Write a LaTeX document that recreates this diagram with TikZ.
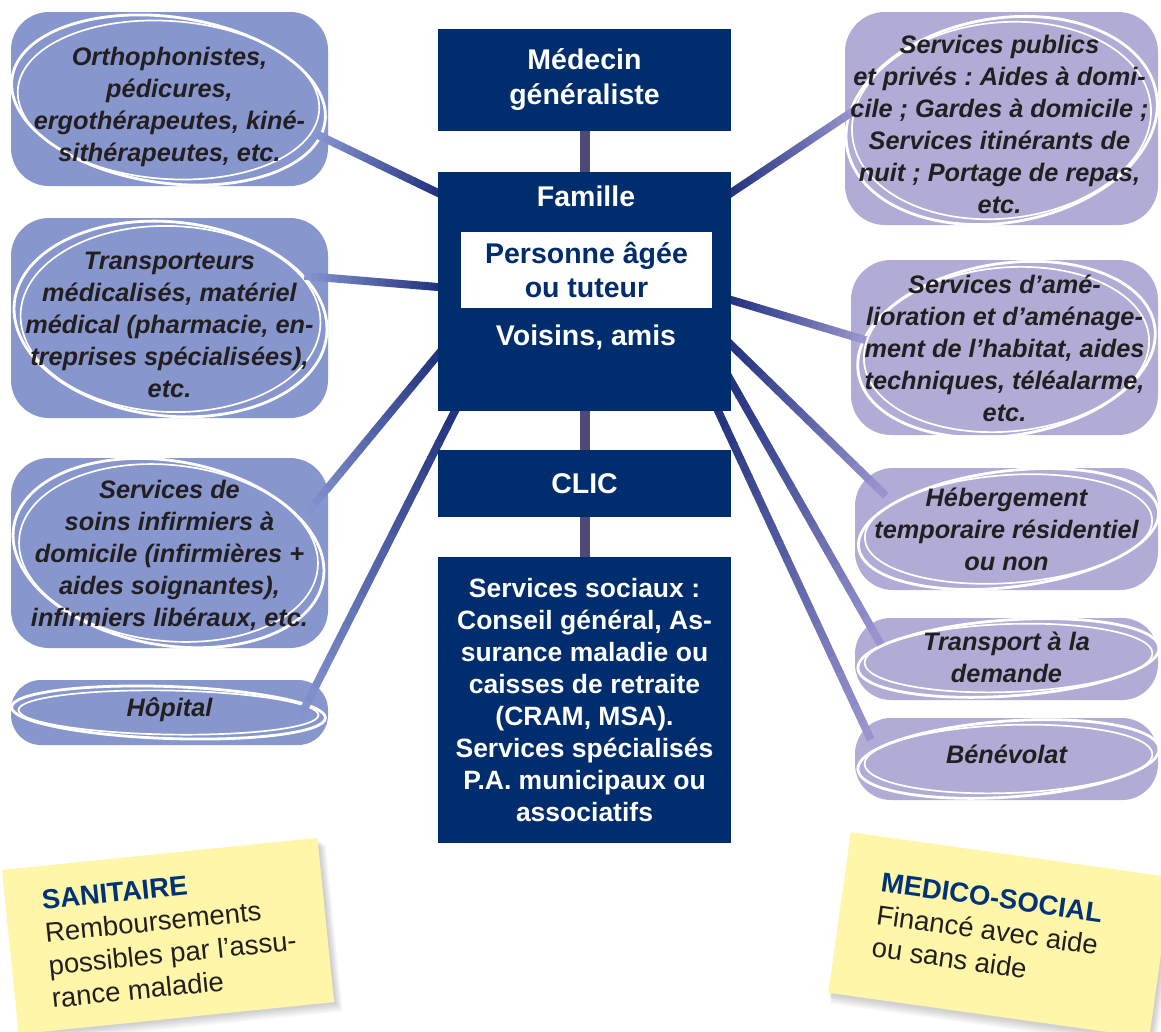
\documentclass[tikz,border=0pt]{standalone}
\usepackage{fontspec}
\setmainfont{Liberation Sans}
\frenchspacing
\usetikzlibrary{calc}
\pgfdeclarelayer{paper}
\pgfdeclarelayer{bg}
\pgfdeclarelayer{rings}
\pgfdeclarelayer{lines}
\pgfsetlayers{paper,bg,rings,lines,main}
\definecolor{navy}{RGB}{0,45,110}
\definecolor{lbox}{RGB}{135,150,204}
\definecolor{rbox}{RGB}{176,172,214}
\definecolor{vline}{RGB}{78,74,120}
\definecolor{ink}{RGB}{35,31,32}
\definecolor{notey}{RGB}{255,246,170}
\definecolor{ldark}{RGB}{35,52,128}
\definecolor{llight}{RGB}{132,147,207}
\definecolor{rlight}{RGB}{152,148,206}
\definecolor{titleblue}{RGB}{0,50,120}
% side box: name, colour, corner radius, centre, width, height
\newcommand\sidebox[6]{\begin{pgfonlayer}{bg}\node[fill=#2, rounded corners=#3, inner sep=0pt, minimum width=#5, minimum height=#6] (#1) at (#4) {};\end{pgfonlayer}}
\newcommand\rings[7]{% node, dx, dy, rx, ry, rotA, rotB
  \begin{pgfonlayer}{rings}
  \coordinate (rc-#1) at ($(#1.center)+(#2,#3)$);
  \draw[ringA, rotate around={#6:(rc-#1)}] (rc-#1) ellipse [x radius=#4, y radius=#5];
  \draw[ringB, rotate around={#7:(rc-#1)}] (rc-#1) ellipse [x radius=#4-7, y radius=#5-4];
  \end{pgfonlayer}}
\newcommand\gline[4]{%
  \begin{pgfonlayer}{lines}
  \foreach \k in {0,...,19}{%
    \pgfmathsetmacro\pa{\k==0 ? -0.04 : \k/20}%
    \pgfmathsetmacro\pb{(\k+1.1)/20}%
    \pgfmathtruncatemacro\pc{100-\k*100/19}%
    \draw[line width=8pt, #3!\pc!#4] ($(#1)!\pa!(#2)$) -- ($(#1)!\pb!(#2)$);
  }%
  \end{pgfonlayer}}
\begin{document}
\begin{tikzpicture}[x=1pt,y=-1pt,
  sidetxt/.style={font=\fontsize{25.3}{32}\selectfont\bfseries\itshape, text=ink, align=center, inner sep=0pt},
  ctrbox/.style={fill=navy, inner sep=0pt, text=white, font=\fontsize{28.5}{35}\selectfont\bfseries, align=center},
  ctrtxt/.style={inner sep=0pt, text=white, font=\fontsize{28.5}{35}\selectfont\bfseries, align=center},
  vconn/.style={vline, line width=10pt},
  ringA/.style={white, line width=2.8pt},
  ringB/.style={white, line width=1.7pt},
  notebox/.style={fill=notey, inner sep=0pt},
  notetxt/.style={font=\fontsize{27.5}{33}\selectfont, text=ink, align=left, inner sep=0pt},
]
\begin{pgfonlayer}{paper}
\fill[white] (0,0) rectangle (1161,1031);
\end{pgfonlayer}
\useasboundingbox (0,0) rectangle (1161,1031);

% centre column
\node[ctrbox, minimum width=293pt, minimum height=102pt] (M) at (584.5,80) {Médecin\\généraliste};
\node[fill=navy, minimum width=293pt, minimum height=239pt, inner sep=0pt] (F) at (584.5,291.5) {};
\node[ctrtxt] (Ft) at (586,196) {Famille};
\node[fill=white, minimum width=251pt, minimum height=76pt, inner sep=0pt, text=navy, font=\fontsize{28.5}{34}\selectfont\bfseries, align=center] (P) at (586.5,270) {Personne âgée\\ou tuteur};
\node[ctrtxt] (Fv) at (586,337) {Voisins, amis};
\node[ctrbox, minimum width=293pt, minimum height=67pt] (C) at (584.5,483.5) {CLIC};
\node[ctrbox, font=\fontsize{26.5}{32}\selectfont\bfseries, minimum width=293pt, minimum height=286pt] (S) at (584.5,700) {Services sociaux :\\Conseil général, As-\\surance maladie ou\\caisses de retraite\\(CRAM, MSA).\\Services spécialisés\\P.A. municipaux ou\\associatifs};

% left boxes
\sidebox{L1}{lbox}{38pt}{169.5,99}{317pt}{174pt}
\sidebox{L2}{lbox}{38pt}{169.5,318}{317pt}{200pt}
\sidebox{L3}{lbox}{38pt}{169.5,553}{317pt}{190pt}
\sidebox{L4}{lbox}{30pt}{169.5,712.5}{317pt}{65pt}
\node[sidetxt] (L1t) at ($(L1.center)+(0,8)$) {Orthophonistes,\\pédicures,\\ergothérapeutes, kiné-\\sithérapeutes, etc.};
\node[sidetxt] (L2t) at ($(L2.center)+(0,7)$) {Transporteurs\\médicalisés, matériel\\médical (pharmacie, en-\\treprises spécialisées),\\etc.};
\node[sidetxt] (L3t) at ($(L3.center)+(0,2)$) {Services de\\soins infirmiers à\\domicile (infirmières +\\aides soignantes),\\infirmiers libéraux, etc.};
\node[sidetxt] (L4t) at ($(L4.center)+(0,-3)$) {Hôpital};

% right boxes
\sidebox{R1}{rbox}{40pt}{1001.5,118.5}{313pt}{213pt}
\sidebox{R2}{rbox}{40pt}{1004.5,347.5}{307pt}{175pt}
\sidebox{R3}{rbox}{38pt}{1006.5,529}{303pt}{122pt}
\sidebox{R4}{rbox}{36pt}{1006.5,659}{303pt}{82pt}
\sidebox{R5}{rbox}{36pt}{1006.5,759}{303pt}{82pt}
\node[sidetxt] (R1t) at ($(R1.center)+(-2,6)$) {Services publics\\et privés : Aides à domi-\\cile ; Gardes à domicile ;\\Services itinérants de\\nuit ; Portage de repas,\\etc.};
\node[sidetxt] (R2t) at ($(R2.center)+(0,1)$) {Services d’amé-\\lioration et d’aménage-\\ment de l’habitat, aides\\techniques, téléalarme,\\etc.};
\node[sidetxt] (R3t) at ($(R3.center)+(0,0)$) {Hébergement\\temporaire résidentiel\\ou non};
\node[sidetxt] (R4t) at ($(R4.center)+(0,-2)$) {Transport à la\\demande};
\node[sidetxt] (R5t) at ($(R5.center)+(0,-5)$) {Bénévolat};

% white rings
\rings{L1}{-1}{1}{158}{83}{-8}{-4}
\rings{L2}{1}{1}{157}{97}{-6}{-2}
\rings{L3}{-1}{0}{157}{92}{-10}{-6}
\rings{L4}{-1}{0}{157}{26}{-2}{-1}
\rings{R1}{0}{2}{157}{102}{10}{6}
\rings{R2}{2}{2}{150}{86}{9}{5}
\rings{R3}{2}{0}{151}{58}{7}{4}
\rings{R4}{2}{-1}{151}{38}{4}{2}
\rings{R5}{2}{0}{151}{38}{4}{2}

% vertical connectors
\begin{pgfonlayer}{lines}
\draw[vconn] (M.south) -- (F.north);
\draw[vconn] (F.south) -- (C.north);
\draw[vconn] (C.south) -- (S.north);
\end{pgfonlayer}

% connector end points
\coordinate (sL1) at ($(F.north west)+(0,21)$);
\coordinate (sL2) at ($(F.west)+(0,-4.5)$);
\coordinate (sL3) at ($(F.west)+(0,63.5)$);
\coordinate (sL4) at ($(F.south west)+(17,0)$);
\coordinate (sR1) at ($(F.north east)+(0,21)$);
\coordinate (sR2) at ($(F.east)+(0,8.5)$);
\coordinate (sR3) at ($(F.east)+(0,53.5)$);
\coordinate (sR4) at ($(F.east)+(0,90)$);
\coordinate (sR5) at ($(F.south east)+(-13,0)$);
\coordinate (eL1) at ($(L1.center)+(148.5,36)$);
\coordinate (eL2) at ($(L2.center)+(135.5,-42)$);
\coordinate (eL3) at ($(L3.center)+(138.5,-41)$);
\coordinate (eL4) at ($(L4.center)+(130.5,4.5)$);
\coordinate (eR1) at ($(R1.center)+(-146.5,-8.5)$);
\coordinate (eR2) at ($(R2.center)+(-139.5,-7.5)$);
\coordinate (eR3) at ($(R3.center)+(-121.5,-34)$);
\coordinate (eR4) at ($(R4.center)+(-126.5,-16)$);
\coordinate (eR5) at ($(R5.center)+(-136.5,-21)$);
\gline{sL1}{eL1}{ldark}{llight}
\gline{sL2}{eL2}{ldark}{llight}
\gline{sL3}{eL3}{ldark}{llight}
\gline{sL4}{eL4}{ldark}{llight}
\gline{sR1}{eR1}{ldark}{rlight}
\gline{sR2}{eR2}{ldark}{rlight}
\gline{sR3}{eR3}{ldark}{rlight}
\gline{sR4}{eR4}{ldark}{rlight}
\gline{sR5}{eR5}{ldark}{rlight}

% sticky notes
\begin{scope}[shift={(168,936)}, rotate=5.8, transform shape]
  \foreach \i in {1,...,6} \fill[black, opacity=0.03] (-157+\i*0.5,-80+\i) rectangle (159+\i*1.2,83+\i*1.6);
  \node[notebox, minimum width=317pt, minimum height=165pt] (N1) at (0,0) {};
  \node[notetxt, anchor=west] (N1t) at (-122,1) {\textcolor{titleblue}{\textbf{SANITAIRE}}\\Remboursements\\possibles par l’assu-\\rance maladie};
\end{scope}
\begin{scope}[shift={(1000,935)}, rotate=-8, transform shape]
  \foreach \i in {1,...,6} \fill[black, opacity=0.03] (-161+\i*0.5,-79+\i) rectangle (163+\i*1.2,82+\i*1.6);
  \node[notebox, minimum width=324pt, minimum height=162pt] (N2) at (0,0) {};
  \node[notetxt, anchor=west] (N2t) at (-125,-3) {\textcolor{titleblue}{\textbf{MEDICO-SOCIAL}}\\Financé avec aide\\ou sans aide};
\end{scope}
\end{tikzpicture}
\end{document}
